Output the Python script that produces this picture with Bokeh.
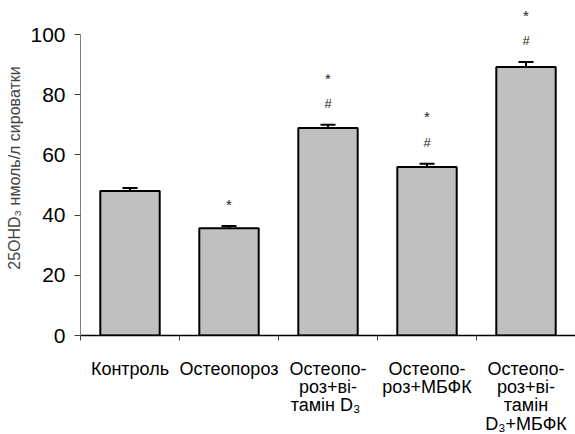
from bokeh.plotting import figure
from bokeh.models import Range1d, FixedTicker, ColumnDataSource, Whisker, LinearAxis
from bokeh.core.properties import value
from bokeh.embed import file_html
from bokeh.resources import INLINE

categories = ["Контроль", "Остеопороз", "Остеопо-\nроз+ві-\nтамін  D₃", "Остеопо-\nроз+МБФК", "Остеопо-\nроз+ві-\nтамін\nD₃+МБФК"]
means = [48.0, 35.6, 68.9, 56.0, 89.2]
errors = [1.0, 0.8, 1.1, 1.1, 1.7]
marks_hash = ["", "", "#", "#", "#"]
marks_star = ["", "*", "*", "*", "*"]

n = len(categories)
xs = [i + 0.5 for i in range(n)]

p = figure(frame_width=495, frame_height=335, output_backend="svg", toolbar_location=None,
           x_range=Range1d(0, n), y_range=Range1d(0, 111.3),
           min_border_left=80, min_border_right=0, min_border_top=0, min_border_bottom=0,
           x_axis_type=None)
p.outline_line_color = None
p.grid.grid_line_color = None
p.background_fill_color = "white"

src = ColumnDataSource(dict(x=xs, top=means, upper=[m + e for m, e in zip(means, errors)],
                            lower=[m - e for m, e in zip(means, errors)],
                            hy=[m + e + 7 for m, e in zip(means, errors)],
                            sy=[m + e + 15.5 if h else m + e + 7 for m, e, h in zip(means, errors, marks_hash)],
                            h=marks_hash, s=marks_star))

p.vbar(x="x", top="top", width=0.6, bottom=0, source=src, fill_color="#c0c0c0",
       line_color="black", line_width=2)
w = Whisker(base="x", upper="upper", lower="lower", source=src, line_color="black", line_width=2)
w.upper_head.size = 15
w.lower_head.size = 15
w.upper_head.line_width = 2
w.lower_head.line_width = 2
p.add_layout(w)

p.text(x="x", y="hy", text="h", source=src, text_align="center", text_baseline="middle",
       text_font=value("Liberation Sans"), text_font_size="13px", text_color="#222222")
p.text(x="x", y="sy", text="s", source=src, text_align="center", text_baseline="middle",
       text_font=value("Liberation Sans"), text_font_size="15px", text_color="#222222")

# y axis
ya = p.yaxis[0]
ya.ticker = FixedTicker(ticks=[0, 20, 40, 60, 80, 100], minor_ticks=[])
ya.bounds = (0, 100)
ya.axis_line_color = "#808080"
ya.axis_line_width = 1
ya.major_tick_line_color = "#404040"
ya.major_tick_out = 6
ya.major_tick_in = 0
ya.minor_tick_line_color = None
ya.major_label_text_font = "Liberation Sans"
ya.major_label_text_font_size = "21px"
ya.major_label_text_color = "black"
ya.major_label_standoff = 9
ya.axis_label = "25OHD₃ нмоль/л сироватки"
ya.axis_label_text_font = "Liberation Sans"
ya.axis_label_text_font_size = "16px"
ya.axis_label_text_font_style = "normal"
ya.axis_label_standoff = 4

# x axis
xa = LinearAxis(ticker=FixedTicker(ticks=xs, minor_ticks=list(range(n + 1))))
xa.major_label_overrides = {x: c for x, c in zip(xs, categories)}
xa.axis_line_color = "black"
xa.axis_line_width = 1.5
xa.major_tick_line_color = None
xa.minor_tick_line_color = "#404040"
xa.minor_tick_out = 5
xa.minor_tick_in = 0
xa.major_label_text_font = "Liberation Sans"
xa.major_label_text_font_size = "18px"
xa.major_label_text_color = "black"
xa.major_label_text_line_height = 0.92
xa.major_label_standoff = 17
p.add_layout(xa, "below")

open("out.html", "w").write(file_html(p, INLINE))
